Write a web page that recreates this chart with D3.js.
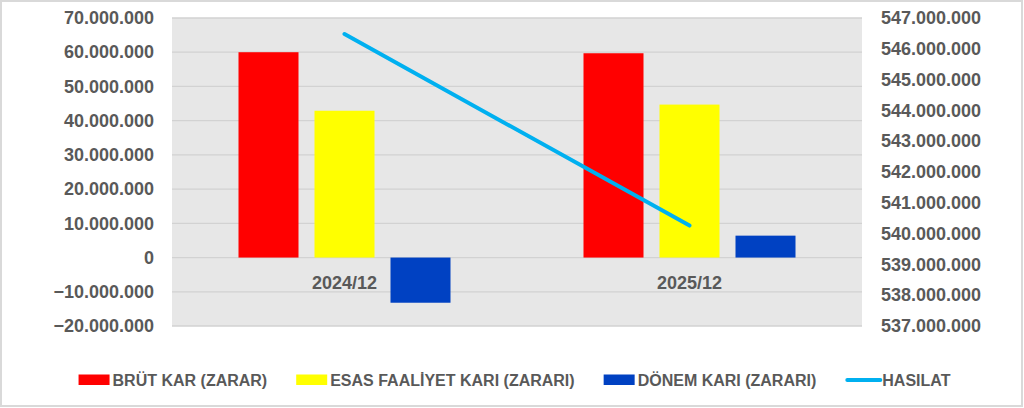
<!DOCTYPE html>
<html><head><meta charset="utf-8">
<script src="https://cdn.jsdelivr.net/npm/d3@7"></script>
<style>
html,body{margin:0;padding:0;background:#fff;}
svg{display:block;font-family:"Liberation Sans",Arial,sans-serif;}
</style></head>
<body>
<svg id="c" width="1024" height="408"></svg>
<script>
const categories = ["2024/12", "2025/12"];
const brutKar = [60000000, 59700000];
const esasFaaliyet = [42900000, 44700000];
const donemKari = [-13200000, 6400000];
const hasilat = [546480000, 540260000];
const leftTicks = [70000000,60000000,50000000,40000000,30000000,20000000,10000000,0,-10000000,-20000000];
const rightTicks = [547000000,546000000,545000000,544000000,543000000,542000000,541000000,540000000,539000000,538000000,537000000];
const seriesNames = ["BRÜT KAR (ZARAR)", "ESAS FAALİYET KARI (ZARARI)", "DÖNEM KARI (ZARARI)", "HASILAT"];
const colors = ["#ff0000", "#ffff00", "#0041c2", "#00b0f0"];

const svg = d3.select("#c");
const W = 1024, H = 408;
const plot = {x0: 172, x1: 862, y0: 18, y1: 326};
const txt = "#595959";

svg.append("rect").attr("x",1).attr("y",1).attr("width",W-3).attr("height",H-3)
  .attr("fill","#fff").attr("stroke","#d9d9d9").attr("stroke-width",2);

const yL = d3.scaleLinear().domain([-20000000, 70000000]).range([plot.y1, plot.y0]);
const yR = d3.scaleLinear().domain([537000000, 547000000]).range([plot.y1, plot.y0]);
const x0 = d3.scaleBand().domain(categories).range([plot.x0, plot.x1]);
const series = [brutKar, esasFaaliyet, donemKari];
const x1 = d3.scaleBand().domain([0,1,2]).range([0, 212]).paddingInner(16/76);

const fmt = v => d3.format(",")(v).replace(/,/g, ".");

svg.append("rect").attr("x",plot.x0).attr("y",plot.y0)
  .attr("width",plot.x1-plot.x0).attr("height",plot.y1-plot.y0).attr("fill","#e7e7e7");

svg.append("g").selectAll("line").data(leftTicks).join("line")
  .attr("x1",plot.x0).attr("x2",plot.x1)
  .attr("y1",d=>yL(d)).attr("y2",d=>yL(d))
  .attr("stroke","#d2d2d2").attr("stroke-width",1.3);

// bars
series.forEach((vals, si) => {
  svg.append("g").selectAll("rect").data(categories).join("rect")
    .attr("x", (c) => x0(c) + (x0.bandwidth()-212)/2 + x1(si))
    .attr("width", x1.bandwidth())
    .attr("y", (c,i) => yL(Math.max(0, vals[i])))
    .attr("height", (c,i) => Math.abs(yL(vals[i]) - yL(0)))
    .attr("fill", colors[si]);
});

// line
const line = d3.line().x((d,i)=>x0(categories[i]) + x0.bandwidth()/2).y(d=>yR(d));
svg.append("path").datum(hasilat).attr("d", line)
  .attr("fill","none").attr("stroke",colors[3]).attr("stroke-width",4).attr("stroke-linecap","round");

// axes
const axL = d3.axisLeft(yL).tickValues(leftTicks).tickFormat(fmt).tickSize(0).tickPadding(0);
const gL = svg.append("g").attr("transform",`translate(154,0)`).call(axL);
gL.select(".domain").remove();
gL.selectAll("text").attr("fill",txt).style("font-size","18px").style("font-weight","bold")
  .style("font-family","'Liberation Sans',Arial,sans-serif");

const axR = d3.axisRight(yR).tickValues(rightTicks).tickFormat(fmt).tickSize(0).tickPadding(0);
const gR = svg.append("g").attr("transform",`translate(881,0)`).call(axR);
gR.select(".domain").remove();
gR.selectAll("text").attr("fill",txt).style("font-size","18px").style("font-weight","bold")
  .style("font-family","'Liberation Sans',Arial,sans-serif");

// category labels
svg.append("g").selectAll("text").data(categories).join("text")
  .attr("x", c => x0(c) + x0.bandwidth()/2).attr("y", 289)
  .attr("text-anchor","middle").attr("fill",txt)
  .style("font-size","18px").style("font-weight","bold").text(c=>c);

// legend
const lg = svg.append("g");
let cx = 0;
const items = [];
seriesNames.forEach((n, i) => {
  const g = lg.append("g");
  if (i < 3) {
    g.append("rect").attr("x",0).attr("y",-5.5).attr("width",31).attr("height",10.5).attr("fill",colors[i]);
  } else {
    g.append("line").attr("x1",2).attr("x2",35).attr("y1",0).attr("y2",0)
      .attr("stroke",colors[i]).attr("stroke-width",4).attr("stroke-linecap","round");
  }
  const t = g.append("text").attr("x", i<3?34:37).attr("y",6).attr("fill",txt)
    .style("font-size","16px").style("font-weight","bold").text(n);
  const w = (i<3?34:37) + t.node().getComputedTextLength();
  g.attr("transform",`translate(${cx},0)`);
  cx += w + 29;
});
const total = cx - 29;
lg.attr("transform",`translate(${(79+950)/2 - total/2},380)`);
</script>
</body></html>
